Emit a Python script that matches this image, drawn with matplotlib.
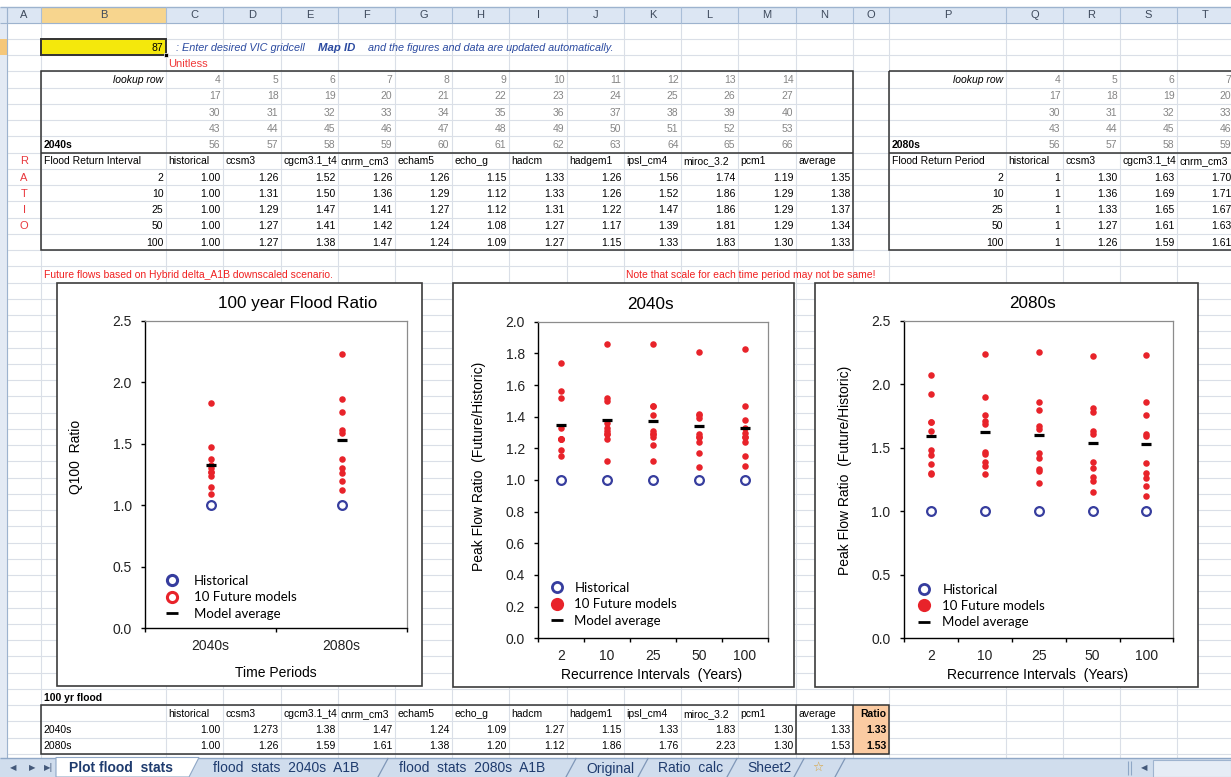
import matplotlib
matplotlib.use("Agg")
import matplotlib.pyplot as plt
from matplotlib.patches import Rectangle, Polygon
from matplotlib.lines import Line2D
from matplotlib.ticker import FormatStrFormatter

plt.rcParams['font.family'] = ['Liberation Sans', 'DejaVu Sans']

# ---- values ----
models = ["historical", "ccsm3", "cgcm3.1_t4", "cnrm_cm3", "echam5", "echo_g",
          "hadcm", "hadgem1", "ipsl_cm4", "miroc_3.2", "pcm1"]
intervals = [2, 10, 25, 50, 100]

# one row per recurrence interval, one value per entry of models
ratio_2040 = [
    [1.00, 1.26, 1.52, 1.26, 1.26, 1.15, 1.33, 1.26, 1.56, 1.74, 1.19],
    [1.00, 1.31, 1.50, 1.36, 1.29, 1.12, 1.33, 1.26, 1.52, 1.86, 1.29],
    [1.00, 1.29, 1.47, 1.41, 1.27, 1.12, 1.31, 1.22, 1.47, 1.86, 1.29],
    [1.00, 1.27, 1.41, 1.42, 1.24, 1.08, 1.27, 1.17, 1.39, 1.81, 1.29],
    [1.00, 1.27, 1.38, 1.47, 1.24, 1.09, 1.27, 1.15, 1.33, 1.83, 1.30],
]
avg_2040 = [1.35, 1.38, 1.37, 1.34, 1.33]

ratio_2080 = [
    [1, 1.30, 1.63, 1.70, 1.48, 1.37, 1.29, 1.92, 1.70, 2.07, 1.44],
    [1, 1.36, 1.69, 1.71, 1.47, 1.39, 1.29, 1.90, 1.76, 2.24, 1.45],
    [1, 1.33, 1.65, 1.67, 1.46, 1.32, 1.22, 1.86, 1.80, 2.25, 1.42],
    [1, 1.27, 1.61, 1.63, 1.39, 1.24, 1.15, 1.81, 1.78, 2.22, 1.34],
    [1, 1.26, 1.59, 1.61, 1.38, 1.20, 1.12, 1.86, 1.76, 2.23, 1.30],
]
avg_2080 = [1.59, 1.62, 1.60, 1.54, 1.53]

periods = ["2040s", "2080s"]
q100_2040 = [1.00, 1.273, 1.38, 1.47, 1.24, 1.09, 1.27, 1.15, 1.33, 1.83, 1.30]
q100_2080 = [1.00, 1.26, 1.59, 1.61, 1.38, 1.20, 1.12, 1.86, 1.76, 2.23, 1.30]
q100_avg = [1.33, 1.53]

lookup_2040 = [
    [4, 5, 6, 7, 8, 9, 10, 11, 12, 13, 14],
    [17, 18, 19, 20, 21, 22, 23, 24, 25, 26, 27],
    [30, 31, 32, 33, 34, 35, 36, 37, 38, 39, 40],
    [43, 44, 45, 46, 47, 48, 49, 50, 51, 52, 53],
    [56, 57, 58, 59, 60, 61, 62, 63, 64, 65, 66],
]
lookup_2080 = [[4, 5, 6, 7], [17, 18, 19, 20], [30, 31, 32, 33], [43, 44, 45, 46], [56, 57, 58, 59]]

sheet_tabs = ["Plot flood  stats", "flood  stats  2040s  A1B", "flood  stats  2080s  A1B",
              "Original", "Ratio  calc", "Sheet2"]

# ---- colours ----
RED = '#E8232A'
BLUE = '#363D9E'
GRID = '#DADFE7'

W, H = 1231, 777
fig = plt.figure(figsize=(W / 100, H / 100), dpi=100)
bg = fig.add_axes([0, 0, 1, 1])
bg.set_xlim(0, W)
bg.set_ylim(H, 0)
bg.axis('off')

# sheet geometry (pixels)
cols = "ABCDEFGHIJKLMNOPQRST"
col_edges = [7, 41, 166, 223, 281, 338, 395, 452, 509, 567, 624, 681, 738, 796, 853,
             889, 1006, 1063, 1120, 1177, 1234]
ROW0 = 22.7
ROWH = 16.25
SHEET_BOTTOM = 757.5


def col_lr(c):
    i = cols.index(c)
    return col_edges[i], col_edges[i + 1]


def row_top(r):
    return ROW0 + (r - 1) * ROWH


def row_mid(r):
    return row_top(r) + ROWH / 2


def cell(c, r, s, ha='right', color='black', size=7.5, **kw):
    l, rr = col_lr(c)
    x = {'right': rr - 2.5, 'left': l + 2.5, 'center': (l + rr) / 2}[ha]
    bg.text(x, row_mid(r) + 0.6, s, ha=ha, va='center', fontsize=size, color=color,
            zorder=3, clip_on=False, **kw)


# gridlines
bg.vlines(col_edges, ROW0, SHEET_BOTTOM, color=GRID, lw=0.8, zorder=0)
bg.hlines([row_top(r) for r in range(1, 47)], 7, W, color=GRID, lw=0.8, zorder=0)

# column header bar
bg.add_patch(Rectangle((0, 6.5), W, ROW0 - 6.5, fc='#DCE6F3', ec='none', zorder=1))
bg.add_patch(Rectangle((41, 6.5), 125, ROW0 - 6.5, fc='#F7D58E', ec='none', zorder=1))
bg.hlines([6.5], 0, W, color='#9DB3CE', lw=1, zorder=2)
bg.hlines([ROW0], 0, W, color='#9DB3CE', lw=0.8, zorder=2)
bg.vlines(col_edges, 6.5, ROW0, color='#A9BED8', lw=0.8, zorder=2)
for i, c in enumerate(cols):
    bg.text((col_edges[i] + col_edges[i + 1]) / 2, (6.5 + ROW0) / 2 + 0.5, c, ha='center',
            va='center', fontsize=8, color='#3E4A5C', zorder=3)
# collapsed row header strip
bg.add_patch(Rectangle((0, ROW0), 7, SHEET_BOTTOM - ROW0, fc='#E3EAF4', ec='none', zorder=1))
bg.add_patch(Rectangle((0, row_top(2)), 7, ROWH, fc='#F5C77A', ec='none', zorder=1))
bg.vlines([7], 6.5, SHEET_BOTTOM, color='#9DB3CE', lw=0.8, zorder=2)

# gridcell input
bg.add_patch(Rectangle((41, row_top(2)), 125, ROWH, fc='#F4E80C', ec='#333333', lw=1.4, zorder=2))
bg.add_patch(Rectangle((163.5, row_top(3) - 2.5), 4.5, 4.5, fc='black', ec='white', lw=0.5, zorder=3))
cell('B', 2, '87')
bg.text(176, row_mid(2) + 0.6, ': Enter desired VIC gridcell', fontsize=7.8, style='italic',
        color='#2B4AA0', va='center', zorder=3)
bg.text(318, row_mid(2) + 0.6, 'Map ID', fontsize=8.2, style='italic', weight='bold',
        color='#2B4AA0', va='center', zorder=3)
bg.text(368, row_mid(2) + 0.6, 'and the figures and data are updated automatically.', fontsize=7.8,
        style='italic', color='#2B4AA0', va='center', zorder=3)
cell('C', 3, 'Unitless', ha='left', color='#F03A3A', size=8)

# ---- 2040s table ----
cell('B', 4, 'lookup row', style='italic')
for k, vals in enumerate(lookup_2040):
    for j, v in enumerate(vals):
        cell(cols[2 + j], 4 + k, str(v), color='#858585')
cell('B', 8, '2040s', ha='left', weight='bold')
cell('B', 9, 'Flood Return Interval', ha='left')
for j, m in enumerate(models + ['average']):
    cell(cols[2 + j], 9, m, ha='left')
for k, iv in enumerate(intervals):
    cell('B', 10 + k, str(iv))
    for j, v in enumerate(ratio_2040[k]):
        cell(cols[2 + j], 10 + k, f'{v:.2f}')
    cell('N', 10 + k, f'{avg_2040[k]:.2f}')
for k, ch in enumerate('RATIO'):
    cell('A', 9 + k, ch, ha='center', color='#E8383D', size=8)
bg.add_patch(Rectangle((41, row_top(4)), 853 - 41, row_top(15) - row_top(4), fill=False,
                       ec='#333333', lw=1.1, zorder=2))
bg.hlines([row_top(9)], 41, 853, color='#333333', lw=1.1, zorder=2)

# ---- 2080s table (runs off the right edge) ----
cell('P', 4, 'lookup row', style='italic')
for k, vals in enumerate(lookup_2080):
    for j, v in enumerate(vals):
        cell(cols[16 + j], 4 + k, str(v), color='#858585')
cell('P', 8, '2080s', ha='left', weight='bold')
cell('P', 9, 'Flood Return Period', ha='left')
for j, m in enumerate(models[:4]):
    cell(cols[16 + j], 9, m, ha='left')
for k, iv in enumerate(intervals):
    cell('P', 10 + k, str(iv))
    for j, v in enumerate(ratio_2080[k][:4]):
        cell(cols[16 + j], 10 + k, f'{v:g}' if j == 0 else f'{v:.2f}')
bg.add_patch(Rectangle((889, row_top(4)), 400, row_top(15) - row_top(4), fill=False,
                       ec='#333333', lw=1.1, zorder=2))
bg.hlines([row_top(9)], 889, W, color='#333333', lw=1.1, zorder=2)

# notes above the charts
cell('B', 16, 'Future flows based on Hybrid delta_A1B downscaled scenario.', ha='left', color='#F02020')
cell('K', 16, 'Note that scale for each time period may not be same!', ha='left', color='#F02020')

# ---- 100 yr flood table ----
cell('B', 42, '100 yr flood', ha='left', weight='bold')
bg.add_patch(Rectangle((853, row_top(43)), 36, 3 * ROWH, fc='#FBCBA2', ec='none', zorder=1))
for j, m in enumerate(models + ['average']):
    cell(cols[2 + j], 43, m, ha='left')
cell('O', 43, 'Ratio', weight='bold')
for k, (p, vals) in enumerate(zip(periods, [q100_2040, q100_2080])):
    cell('B', 44 + k, p, ha='left')
    for j, v in enumerate(vals):
        cell(cols[2 + j], 44 + k, f'{v:.3f}' if round(v, 2) != v else f'{v:.2f}')
    cell('N', 44 + k, f'{q100_avg[k]:.2f}')
    cell('O', 44 + k, f'{q100_avg[k]:.2f}', weight='bold')
bg.add_patch(Rectangle((41, row_top(43)), 889 - 41, 3 * ROWH, fill=False, ec='#333333', lw=1.1, zorder=2))
bg.vlines([796, 853], row_top(43), row_top(46), color='#333333', lw=1.1, zorder=2)

# ---- sheet tabs ----
bg.add_patch(Rectangle((0, SHEET_BOTTOM), W, H - SHEET_BOTTOM, fc='#D0DDED', ec='none', zorder=4))
bg.hlines([SHEET_BOTTOM], 0, W, color='#8FA7C6', lw=1, zorder=5)
bg.add_patch(Polygon([(56, SHEET_BOTTOM), (199, SHEET_BOTTOM), (189, H), (56, H)], closed=True,
                     fc='white', ec='#8FA7C6', lw=0.8, zorder=5))
for x, s in [(10, '\u25C0'), (29, '\u25B6'), (44, '\u25B6|')]:
    bg.text(x, 768, s, fontsize=6, color='#44597A', va='center', family='DejaVu Sans', zorder=6)
tab_x = [69, 213, 399, 586, 658, 747]
for i, (x, s) in enumerate(zip(tab_x, sheet_tabs)):
    bg.text(x, 768.5, s, fontsize=10, color='#1E3B6E', va='center',
            weight='bold' if i == 0 else 'normal', zorder=6)
for x in [378, 566, 638, 727, 794, 835]:
    bg.plot([x, x + 10], [H, SHEET_BOTTOM + 1], color='#7F97B8', lw=0.9, zorder=6)
bg.text(812, 767, '\u2606', fontsize=9, color='#D9A33A', va='center', family='DejaVu Sans', zorder=6)
bg.add_patch(Rectangle((1153, SHEET_BOTTOM + 2), W - 1153, H - SHEET_BOTTOM - 2, fc='#E6EDF6',
                       ec='#9FB4CF', lw=0.8, zorder=5))
bg.vlines([1128, 1131], SHEET_BOTTOM + 3, H - 2, color='#8FA7C6', lw=0.8, zorder=6)
bg.text(1141, 768, '\u25C0', fontsize=6, color='#44597A', va='center', family='DejaVu Sans', zorder=6)

# ---- charts ----
chart_boxes = [(57, 282.7, 421.7, 685.5), (453.3, 283.3, 794.3, 686.7), (815, 282.7, 1198, 686.7)]
for l, t, r, b in chart_boxes:
    bg.add_patch(Rectangle((l, t), r - l, b - t, fc='white', ec='#3C3C3C', lw=1.2, zorder=7))


def px_axes(l, t, r, b):
    return fig.add_axes([l / W, 1 - b / H, (r - l) / W, (b - t) / H])


def style_axes(ax, ymax, ystep_ticks, ylabel, xlabel, title, title_x, lab_pos, ypad):
    ax.set_ylim(0, ymax)
    ax.set_yticks(ystep_ticks)
    ax.yaxis.set_major_formatter(FormatStrFormatter('%.1f'))
    for s in ['left', 'bottom']:
        ax.spines[s].set_color('black')
        ax.spines[s].set_linewidth(1.0)
    for s in ['top', 'right']:
        ax.spines[s].set_color('#8C8C8C')
        ax.spines[s].set_linewidth(0.9)
    ax.tick_params(axis='y', direction='out', length=3, width=1, pad=ypad, labelsize=10,
                   labelcolor='#222222')
    ax.tick_params(axis='x', which='major', direction='out', length=3, width=1, labelbottom=False)
    ax.tick_params(axis='x', which='minor', length=0, pad=8, labelsize=10, labelcolor='#222222')
    ax.set_title(title, fontsize=12.3, x=title_x, pad=9.5)
    ax.set_xlabel(xlabel, fontsize=10)
    ax.set_ylabel(ylabel, fontsize=10)
    ax.xaxis.label.set_va('center')
    ax.yaxis.label.set_va('center')
    ax.xaxis.set_label_coords(*lab_pos[0])
    ax.yaxis.set_label_coords(*lab_pos[1])


def add_legend(ax, handles, left, top, textpad):
    ax.legend(handles, [h.get_label() for h in handles], loc='upper left',
              bbox_to_anchor=(left / W, 1 - top / H), bbox_transform=fig.transFigure,
              frameon=False, borderpad=0, borderaxespad=0, handlelength=1.4,
              handletextpad=textpad, labelspacing=0.33,
              prop={'family': ['Lato', 'DejaVu Sans'], 'size': 9.5})


# chart 1: 100 year flood ratio by period
ax1 = px_axes(145, 320.7, 407.3, 628.3)
pos = list(range(len(periods)))
ax1.plot(pos, [q100_2040[0], q100_2080[0]], ls='none', marker='o', ms=6.3, mfc='none',
         mec=BLUE, mew=1.6)
for i, vals in enumerate([q100_2040, q100_2080]):
    ax1.plot([pos[i]] * (len(vals) - 1), vals[1:], ls='none', marker='o', ms=4.7, mfc=RED, mec='none')
ax1.plot(pos, q100_avg, ls='none', marker='_', ms=7.5, mew=2.3, color='black')
ax1.set_xlim(-0.5, 1.5)
ax1.set_xticks([-0.5, 0.5, 1.5])
ax1.set_xticks(pos, minor=True)
ax1.set_xticklabels(periods, minor=True)
style_axes(ax1, 2.5, [0, 0.5, 1.0, 1.5, 2.0, 2.5], 'Q100  Ratio', 'Time Periods',
           '100 year Flood Ratio', 0.582, [(0.498, -0.145), (-0.263, 0.558)], 6.5)
add_legend(ax1, [
    Line2D([], [], ls='none', marker='o', ms=7.3, mfc='none', mec=BLUE, mew=2.2, label='Historical'),
    Line2D([], [], ls='none', marker='o', ms=7.3, mfc='none', mec=RED, mew=2.2, label='10 Future models'),
    Line2D([], [], ls='none', marker='_', ms=9, mew=2, color='black', label='Model average'),
], 162.5, 575, 1.0)

# charts 2 and 3: ratio by recurrence interval
setups = [
    (ratio_2040, avg_2040, (537.7, 321.7, 767.7, 638.3), 2.0,
     [0, 0.2, 0.4, 0.6, 0.8, 1.0, 1.2, 1.4, 1.6, 1.8, 2.0], '2040s', 0.49,
     [(0.496, -0.116), (-0.254, 0.542)], 6.3, 547.5, 582, 0.63),
    (ratio_2080, avg_2080, (904.3, 320.7, 1173.3, 638.3), 2.5,
     [0, 0.5, 1.0, 1.5, 2.0, 2.5], '2080s', 0.475,
     [(0.497, -0.115), (-0.220, 0.530)], 6.9, 915.1, 583.5, 0.66),
]
for ratios, avgs, box, ymax, yt, title, tx, labpos, ypad, lg_left, lg_top, lg_pad in setups:
    ax = px_axes(*box)
    xs = list(range(len(intervals)))
    ax.plot(xs, [r[0] for r in ratios], ls='none', marker='o', ms=6.3, mfc='none', mec=BLUE, mew=1.6)
    for i, r in enumerate(ratios):
        ax.plot([xs[i]] * (len(r) - 1), r[1:], ls='none', marker='o', ms=4.7, mfc=RED, mec='none')
    ax.plot(xs, avgs, ls='none', marker='_', ms=7, mew=2.3, color='black')
    ax.set_xlim(-0.5, len(intervals) - 0.5)
    ax.set_xticks([x - 0.5 for x in xs] + [xs[-1] + 0.5])
    ax.set_xticks(xs, minor=True)
    ax.set_xticklabels([str(v) for v in intervals], minor=True)
    style_axes(ax, ymax, yt, 'Peak Flow Ratio  (Future/Historic)', 'Recurrence Intervals  (Years)',
               title, tx, labpos, ypad)
    add_legend(ax, [
        Line2D([], [], ls='none', marker='o', ms=7.3, mfc='none', mec=BLUE, mew=2.0, label='Historical'),
        Line2D([], [], ls='none', marker='o', ms=9.5, mfc=RED, mec='none', label='10 Future models'),
        Line2D([], [], ls='none', marker='_', ms=8, mew=2, color='black', label='Model average'),
    ], lg_left, lg_top, lg_pad)

fig.savefig('out.png', dpi=100)
